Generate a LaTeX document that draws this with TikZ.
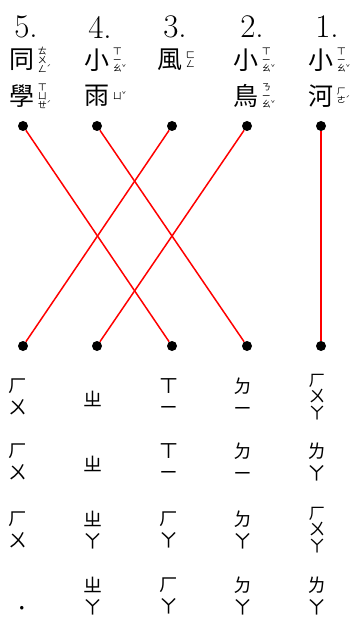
\documentclass[tikz,border=0pt]{standalone}
\usepackage{fontspec}
\newfontfamily\cjk{Noto Sans CJK TC}
\usetikzlibrary{positioning}
\tikzset{
  num/.style={font=\fontsize{33}{33}\selectfont,inner sep=0pt},
  han/.style={font=\cjk\fontsize{25}{25}\selectfont,inner sep=0pt},
  zhu/.style={font=\cjk\fontsize{9}{8.8}\selectfont,align=center,inner sep=0pt},
  pron/.style={font=\cjk\fontsize{19}{22}\selectfont,align=center,inner sep=0pt},
  pronthree/.style={pron,font=\cjk\fontsize{17}{16.5}\selectfont},
  dot/.style={circle,fill=black,inner sep=0pt,minimum size=10pt},
  link/.style={red,line width=1.5pt}
}
\newcommand{\tone}[1]{\rlap{\raisebox{0.35ex}{\fontsize{7}{7}\selectfont #1}}}

\begin{document}
\begin{tikzpicture}[x=1pt,y=-1pt]
\useasboundingbox (0,0) rectangle (360,617);
% Words
\node[num] (n5) at (26,27) {5.};
\node[han] (w5a) at (22,60) {同};
\node[han] (w5b) at (22,96) {學};
\node[zhu,right=3pt of w5a] (z5a) {ㄊ\\ㄨ\\ㄥ\tone{ˊ}};
\node[zhu,right=3pt of w5b] (z5b) {ㄒ\\ㄩ\\ㄝ\tone{ˊ}};

\node[num] (n4) at (100,27) {4.};
\node[han] (w4a) at (97,60) {小};
\node[han] (w4b) at (97,96) {雨};
\node[zhu,right=3pt of w4a] (z4a) {ㄒ\\ㄧ\\ㄠ\tone{ˇ}};
\node[zhu,right=3pt of w4b] (z4b) {ㄩ\tone{ˇ}};

\node[num] (n3) at (175,27) {3.};
\node[han] (w3a) at (170,60) {風};
\node[zhu,right=3pt of w3a] (z3a) {ㄈ\\ㄥ};

\node[num] (n2) at (252,27) {2.};
\node[han] (w2a) at (246,60) {小};
\node[han] (w2b) at (246,96) {鳥};
\node[zhu,right=3pt of w2a] (z2a) {ㄒ\\ㄧ\\ㄠ\tone{ˇ}};
\node[zhu,right=3pt of w2b] (z2b) {ㄋ\\ㄧ\\ㄠ\tone{ˇ}};

\node[num] (n1) at (327,27) {1.};
\node[han] (w1a) at (321,60) {小};
\node[han] (w1b) at (321,96) {河};
\node[zhu,right=3pt of w1a] (z1a) {ㄒ\\ㄧ\\ㄠ\tone{ˇ}};
\node[zhu,right=3pt of w1b] (z1b) {ㄏ\\ㄜ\tone{ˊ}};

% Dots
\node[dot] (t5) at (23,126) {};
\node[dot] (t4) at (97,126) {};
\node[dot] (t3) at (172,126) {};
\node[dot] (t2) at (247,126) {};
\node[dot] (t1) at (321,126) {};
\node[dot] (ba) at (23,346) {};
\node[dot] (bb) at (97,346) {};
\node[dot] (bc) at (172,346) {};
\node[dot] (bd) at (247,346) {};
\node[dot] (be) at (321,346) {};

% Links
\draw[link] (t5) -- (bc);
\draw[link] (t4) -- (bd);
\draw[link] (t3) -- (ba);
\draw[link] (t2) -- (bb);
\draw[link] (t1) -- (be);

% Sounds
\node[pron] (pa1) at (18,397) {ㄏ\\ㄨ};
\node[pron] (pa2) at (18,462) {ㄏ\\ㄨ};
\node[pron] (pa3) at (18,530) {ㄏ\\ㄨ};
\node[pron,anchor=base,text height=10pt,text depth=0pt] (pa4) at (22,615) {˙};

\node[pron] (pb1) at (93,399) {ㄓ};
\node[pron] (pb2) at (93,464) {ㄓ};
\node[pron] (pb3) at (93,530) {ㄓ\\ㄚ};
\node[pron] (pb4) at (93,596) {ㄓ\\ㄚ};

\node[pron] (pc1) at (169,397) {ㄒ\\ㄧ};
\node[pron] (pc2) at (169,462) {ㄒ\\ㄧ};
\node[pron] (pc3) at (169,530) {ㄏ\\ㄚ};
\node[pron] (pc4) at (169,596) {ㄏ\\ㄚ};

\node[pron] (pd1) at (243,397) {ㄉ\\ㄧ};
\node[pron] (pd2) at (243,462) {ㄉ\\ㄧ};
\node[pron] (pd3) at (243,530) {ㄉ\\ㄚ};
\node[pron] (pd4) at (243,596) {ㄉ\\ㄚ};

\node[pronthree] (pe1) at (317,397) {ㄏ\\ㄨ\\ㄚ};
\node[pron] (pe2) at (317,462) {ㄌ\\ㄚ};
\node[pronthree] (pe3) at (317,530) {ㄏ\\ㄨ\\ㄚ};
\node[pron] (pe4) at (317,596) {ㄌ\\ㄚ};
\end{tikzpicture}
\end{document}
